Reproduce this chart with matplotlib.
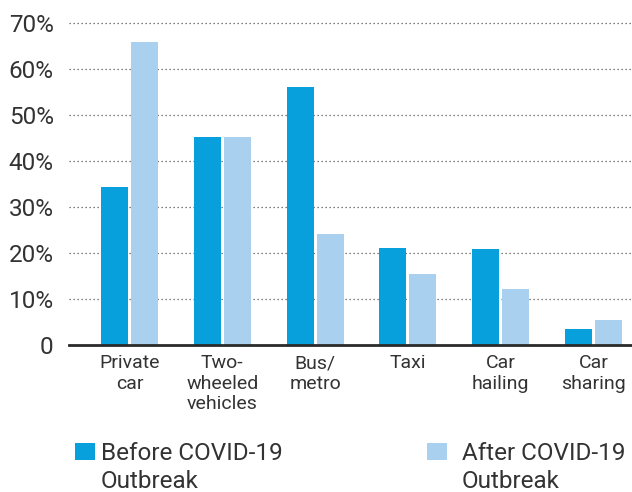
import matplotlib
matplotlib.use("Agg")
import matplotlib.pyplot as plt
import numpy as np

plt.rcParams['font.family'] = ['Roboto', 'DejaVu Sans']

categories = ["Private\ncar", "Two-\nwheeled\nvehicles", "Bus/\nmetro", "Taxi", "Car\nhailing", "Car\nsharing"]
before = [34.4, 45.2, 56.2, 21.1, 20.8, 3.4]
after = [66.0, 45.2, 24.1, 15.4, 12.1, 5.3]
series_first = ["Before COVID-19", "After COVID-19"]
series_second = ["Outbreak", "Outbreak"]
yticks = [0, 10, 20, 30, 40, 50, 60, 70]
yticklabels = ["0", "10%", "20%", "30%", "40%", "50%", "60%", "70%"]

c_before = "#079fdc"
c_after = "#a9d0ee"
txt = "#333333"

W, H = 632, 492
fig = plt.figure(figsize=(W / 100, H / 100), dpi=100)
ax = fig.add_axes([69 / W, 1 - 344.5 / H, (W - 69) / W, (344.5 - 23.3) / H])

x = np.arange(len(categories))
bw = 0.291
off = 0.162
b1 = ax.bar(x - off, before, bw, color=c_before, zorder=3)
b2 = ax.bar(x + off, after, bw, color=c_after, zorder=3)

ax.set_xlim(-0.652, 5.415)
ax.set_ylim(0, 70)
ax.set_yticks(yticks)
ax.set_yticklabels(yticklabels)
ax.set_xticks(x)
ax.set_xticklabels(categories, fontsize=14, color=txt, linespacing=1.17, va='top')
ax.tick_params(axis='x', length=0, pad=7)
ax.tick_params(axis='y', length=0, pad=11, labelsize=17.5, labelcolor=txt)

for s in ['top', 'right', 'left']:
    ax.spines[s].set_visible(False)
ax.spines['bottom'].set_color('#2a2a2a')
ax.spines['bottom'].set_linewidth(2.0)
ax.spines['bottom'].set_zorder(4)

ax.yaxis.grid(True, linestyle=(0, (1, 2.2)), color='#555555', linewidth=0.9, zorder=0)
ax.set_axisbelow(True)
for gl in ax.yaxis.get_gridlines():
    gl.set_clip_on(False)

FS = 17.5
leg_kw = dict(frameon=False, fontsize=FS, borderpad=0, borderaxespad=0,
              handlelength=0.82, handleheight=0.66, labelcolor=txt,
              loc='upper left')
specs = [(b1, series_first[0], series_second[0], 75, 0.24),
         (b2, series_first[1], series_second[1], 427, 0.62)]
target_baseline = H - 460  # display coords (from bottom)
legends = []
for h, lab, _, xpx, pad in specs:
    lg = fig.legend([h], [lab], bbox_to_anchor=(xpx / W, 1 - 440 / H),
                    handletextpad=pad, **leg_kw)
    legends.append(lg)

fig.canvas.draw()
for lg, (h, lab, lab2, xpx, pad) in zip(legends, specs):
    t = lg.get_texts()[0]
    bx, by = t.get_transform().transform(t.get_position())
    dy = target_baseline - by
    lg.set_bbox_to_anchor((xpx / W, 1 - 440 / H + dy / H), transform=fig.transFigure)
fig.canvas.draw()
for lg, (h, lab, lab2, xpx, pad) in zip(legends, specs):
    t = lg.get_texts()[0]
    bx, by = t.get_transform().transform(t.get_position())
    fig.text(bx / W, (by - 28) / H, lab2, fontsize=FS, color=txt,
             ha='left', va='baseline')

fig.savefig("out.png", dpi=100)
